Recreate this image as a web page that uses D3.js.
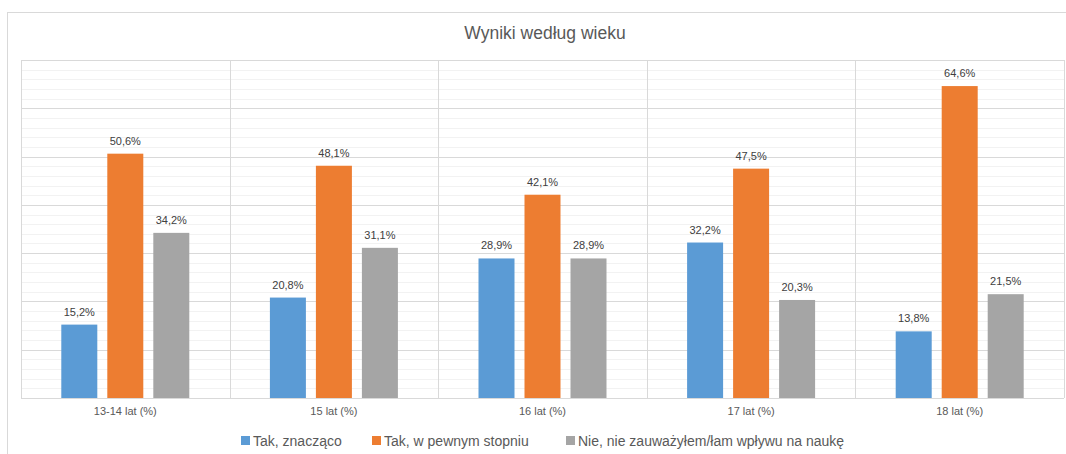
<!DOCTYPE html>
<html>
<head>
<meta charset="utf-8">
<script src="https://cdn.jsdelivr.net/npm/d3@7"></script>
<style>
  body { margin: 0; background: #fff; }
  svg text { font-family: "Liberation Sans", "DejaVu Sans", sans-serif; }
</style>
</head>
<body>
<svg id="chart" width="1066" height="454"></svg>
<script>
const categories = ["13-14 lat (%)", "15 lat (%)", "16 lat (%)", "17 lat (%)", "18 lat (%)"];
const seriesNames = ["Tak, znacząco", "Tak, w pewnym stopniu", "Nie, nie zauważyłem/łam wpływu na naukę"];
const znaczaco = [15.2, 20.8, 28.9, 32.2, 13.8];
const wPewnym = [50.6, 48.1, 42.1, 47.5, 64.6];
const nie = [34.2, 31.1, 28.9, 20.3, 21.5];
const colors = ["#5B9BD5", "#ED7D31", "#A5A5A5"];

const series = [znaczaco, wPewnym, nie];

const svg = d3.select("#chart");
const plot = { left: 21, right: 1064, top: 60, bottom: 398 };

// outer chart frame
svg.append("rect")
  .attr("x", 7.5).attr("y", 12.5)
  .attr("width", 1080).attr("height", 460)
  .attr("fill", "#fff").attr("stroke", "#d9d9d9");

const x = d3.scaleBand().domain(categories).range([plot.left, plot.right]).paddingInner(0).paddingOuter(0);
const y = d3.scaleLinear().domain([0, 70]).range([plot.bottom, plot.top]);

// minor gridlines
svg.append("g").selectAll("line")
  .data(d3.range(0, 70.01, 2).filter(v => v % 10 !== 0))
  .join("line")
  .attr("x1", plot.left).attr("x2", plot.right)
  .attr("y1", d => Math.round(y(d)) + 0.5).attr("y2", d => Math.round(y(d)) + 0.5)
  .attr("stroke", "#f2f2f2");

// major gridlines
svg.append("g").selectAll("line")
  .data(d3.range(0, 70.01, 10))
  .join("line")
  .attr("x1", plot.left).attr("x2", plot.right)
  .attr("y1", d => Math.round(y(d)) + 0.5).attr("y2", d => Math.round(y(d)) + 0.5)
  .attr("stroke", "#d9d9d9");

// vertical category separators
svg.append("g").selectAll("line")
  .data(categories.map(c => x(c)).concat([plot.right]))
  .join("line")
  .attr("x1", d => Math.round(d) + 0.5).attr("x2", d => Math.round(d) + 0.5)
  .attr("y1", plot.top).attr("y2", plot.bottom)
  .attr("stroke", "#d9d9d9");

// bars
const barW = 36, gap = 10;
const inner = d3.scaleBand().domain([0, 1, 2])
  .range([0, 3 * barW + 2 * gap]).paddingInner(gap / (barW + gap));

const groups = svg.append("g").selectAll("g")
  .data(categories)
  .join("g")
  .attr("transform", c => `translate(${x(c) + (x.bandwidth() - (3 * barW + 2 * gap)) / 2},0)`);

series.forEach((vals, si) => {
  groups.append("rect")
    .attr("x", (c, i) => inner(si))
    .attr("width", inner.bandwidth())
    .attr("y", (c, i) => y(vals[i]))
    .attr("height", (c, i) => plot.bottom - y(vals[i]))
    .attr("fill", colors[si]);

  groups.append("text")
    .attr("x", inner(si) + inner.bandwidth() / 2)
    .attr("y", (c, i) => y(vals[i]) - 9)
    .attr("text-anchor", "middle")
    .attr("font-size", 11)
    .attr("fill", "#404040")
    .text((c, i) => vals[i].toFixed(1).replace(".", ",") + "%");
});

// category axis labels
svg.append("g").selectAll("text")
  .data(categories)
  .join("text")
  .attr("x", c => x(c) + x.bandwidth() / 2)
  .attr("y", 415)
  .attr("text-anchor", "middle")
  .attr("font-size", 11)
  .attr("fill", "#595959")
  .text(c => c);

// title
svg.append("text")
  .attr("x", 545).attr("y", 39)
  .attr("text-anchor", "middle")
  .attr("font-size", 17.5)
  .attr("fill", "#595959")
  .text("Wyniki według wieku");

// legend
const legendX = [241, 372, 566];
const legend = svg.append("g").selectAll("g")
  .data(seriesNames)
  .join("g")
  .attr("transform", (d, i) => `translate(${legendX[i]},436)`);
legend.append("rect").attr("width", 9).attr("height", 9).attr("fill", (d, i) => colors[i]);
legend.append("text")
  .attr("x", 12).attr("y", 9.5)
  .attr("font-size", 14)
  .attr("fill", "#595959")
  .text(d => d);
</script>
</body>
</html>
